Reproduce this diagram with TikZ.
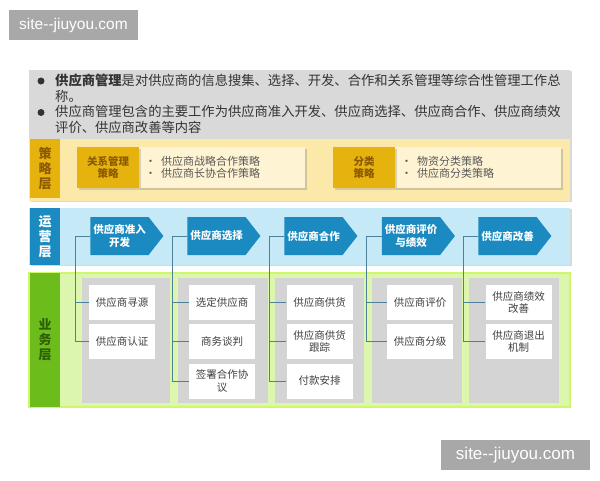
\documentclass[tikz,border=0pt]{standalone}
\usepackage{fontspec}
\setmainfont{Noto Sans CJK SC}
\newfontfamily\wmfont{Liberation Sans}
\usetikzlibrary{shapes.symbols,shadows}

\definecolor{panelgray}{HTML}{D9D9D9}
\definecolor{stratbg}{HTML}{FCE9A9}
\definecolor{stratgold}{HTML}{E6B30E}
\definecolor{stratlight}{HTML}{FEF3D3}
\definecolor{stratfont}{HTML}{8C5B00}
\definecolor{opbg}{HTML}{C6E9F8}
\definecolor{opblue}{HTML}{1A8AC0}
\definecolor{bizbg}{HTML}{DDF6AE}
\definecolor{bizedge}{HTML}{CDF86C}
\definecolor{bizgreen}{HTML}{6CBC1C}
\definecolor{bizfont}{HTML}{2F5F05}
\definecolor{colgray}{HTML}{D4D4D4}
\definecolor{linkcol}{HTML}{4C8199}
\definecolor{txtgray}{HTML}{404040}
\definecolor{wmgray}{HTML}{A8A8A8}

\begin{document}
\begin{tikzpicture}[x=1pt,y=-1pt,
    wmbox/.style={fill=wmgray, text=white, inner sep=0pt, minimum height=30pt},
    intro/.style={inner sep=0pt, align=left, text=black!80, font=\fontsize{13.3}{15.7}\selectfont},
    dot/.style={circle, fill=black!80, inner sep=0pt, minimum size=7pt},
    tabtxt/.style={inner sep=0pt, align=center, font=\bfseries\fontsize{13}{15}\selectfont},
    gold/.style={fill=stratgold, text=stratfont, inner sep=0pt, minimum width=62pt, minimum height=41pt,
      align=center, font=\bfseries\fontsize{10.5}{12.5}\selectfont,
      drop shadow={shadow xshift=1.5pt, shadow yshift=-1.5pt, opacity=0.3}},
    light/.style={fill=stratlight, inner sep=0pt, minimum width=166pt, minimum height=41pt,
      drop shadow={shadow xshift=1.5pt, shadow yshift=-1.5pt, opacity=0.35}},
    lighttxt/.style={inner sep=0pt, align=left, text=black!65, font=\fontsize{11}{12.5}\selectfont},
    flow/.style={signal, signal to=east, signal pointer angle=104, fill=opblue, text=white,
      inner sep=0pt, minimum width=73pt, minimum height=38pt, align=center,
      font=\bfseries\fontsize{10.5}{12.5}\selectfont},
    item/.style={fill=white, inner sep=0pt, minimum width=66pt, minimum height=35pt, align=center,
      text=txtgray, font=\fontsize{10.5}{12.5}\selectfont},
    link/.style={draw=linkcol, line width=0.8pt}]

  \useasboundingbox (0,0) rectangle (600,480);

  % watermarks
  \node[wmbox, minimum width=129pt, font=\wmfont\fontsize{15.5}{15.5}\selectfont] (wm1) at (73.5,25) {site-\kern0pt-jiuyou.com};
  \node[wmbox, minimum width=149pt, font=\wmfont\fontsize{17}{17}\selectfont] (wm2) at (515.5,455) {site-\kern0pt-jiuyou.com};

  % intro panel
  \fill[panelgray, drop shadow={shadow xshift=1.5pt, shadow yshift=-1pt, opacity=0.3}] (29,70) rectangle (570,139);
  \node[dot] (d1) at (41,81) {};
  \node[dot] (d2) at (41,112.5) {};
  \node[intro, anchor=north west] (t1) at (55,74) {\textbf{供应商管理}是对供应商的信息搜集、选择、开发、合作和关系管理等综合性管理工作总\\称。};
  \node[intro, anchor=north west] (t2) at (55,105.5) {供应商管理包含的主要工作为供应商准入开发、供应商选择、供应商合作、供应商绩效\\评价、供应商改善等内容};

  % strategy layer
  \fill[stratbg, drop shadow={shadow xshift=1.5pt, shadow yshift=-1pt, opacity=0.3}] (29,139) rectangle (570,201);
  \fill[stratgold] (30,139) rectangle (60,198);
  \node[tabtxt, text=stratfont] (s0) at (45,168.5) {策\\略\\层};
  \node[light] (l1) at (222,167.5) {};
  \node[gold] (g1) at (108,167.5) {关系管理\\策略};
  \node[lighttxt, anchor=west] (lt1) at (145,167.5) {•\hspace{5pt}供应商战略合作策略\\•\hspace{5pt}供应商长协合作策略};
  \node[light] (l2) at (478,167.5) {};
  \node[gold] (g2) at (364,167.5) {分类\\策略};
  \node[lighttxt, anchor=west] (lt2) at (401,167.5) {•\hspace{5pt}物资分类策略\\•\hspace{5pt}供应商分类策略};

  % operation layer
  \fill[opbg, drop shadow={shadow xshift=1.5pt, shadow yshift=-1pt, opacity=0.3}] (29,208) rectangle (570,265);
  \fill[opblue] (30,208) rectangle (60,265);
  \node[tabtxt, text=white] (o0) at (45,236.5) {运\\营\\层};
  \node[flow] (a1) at (119.5,236) {供应商准入\\开发};
  \node[flow] (a2) at (216.5,236) {供应商选择};
  \node[flow] (a3) at (313.5,236) {供应商合作};
  \node[flow] (a4) at (411,236) {供应商评价\\与绩效};
  \node[flow] (a5) at (507.5,236) {供应商改善};

  % business layer
  \filldraw[fill=bizbg, draw=bizedge, line width=2pt] (29,273) rectangle (570,407);
  \fill[bizgreen] (30,273) rectangle (60,407);
  \node[tabtxt, text=bizfont] (b0) at (45,340) {业\\务\\层};
  \fill[colgray] (82,278) rectangle (170,403);
  \fill[colgray] (178,278) rectangle (268,403);
  \fill[colgray] (275,278) rectangle (364,403);
  \fill[colgray] (372,278) rectangle (462,403);
  \fill[colgray] (469,278) rectangle (559,403);

  \node[item] (i11) at (122,302.5) {供应商寻源};
  \node[item] (i12) at (122,341.5) {供应商认证};
  \node[item] (i21) at (222,302.5) {选定供应商};
  \node[item] (i22) at (222,341.5) {商务谈判};
  \node[item] (i23) at (222,381) {签署合作协\\议};
  \node[item] (i31) at (319.5,302.5) {供应商供货};
  \node[item] (i32) at (319.5,341.5) {供应商供货\\跟踪};
  \node[item] (i33) at (319.5,381) {付款安排};
  \node[item] (i41) at (420,302.5) {供应商评价};
  \node[item] (i42) at (420,341.5) {供应商分级};
  \node[item] (i51) at (518.5,302.5) {供应商绩效\\改善};
  \node[item] (i52) at (518.5,341.5) {供应商退出\\机制};

  % connectors
  \draw[link] (a1.west) -- ++(-15,0) coordinate (v1) |- (i12.west);
  \draw[link] (v1 |- i11.west) -- (i11.west);
  \draw[link] (a2.west) -- ++(-15,0) coordinate (v2) |- (i23.west);
  \draw[link] (v2 |- i21.west) -- (i21.west);
  \draw[link] (v2 |- i22.west) -- (i22.west);
  \draw[link] (a3.west) -- ++(-15,0) coordinate (v3) |- (i33.west);
  \draw[link] (v3 |- i31.west) -- (i31.west);
  \draw[link] (v3 |- i32.west) -- (i32.west);
  \draw[link] (a4.west) -- ++(-15,0) coordinate (v4) |- (i42.west);
  \draw[link] (v4 |- i41.west) -- (i41.west);
  \draw[link] (a5.west) -- ++(-15,0) coordinate (v5) |- (i52.west);
  \draw[link] (v5 |- i51.west) -- (i51.west);
\end{tikzpicture}
\end{document}
